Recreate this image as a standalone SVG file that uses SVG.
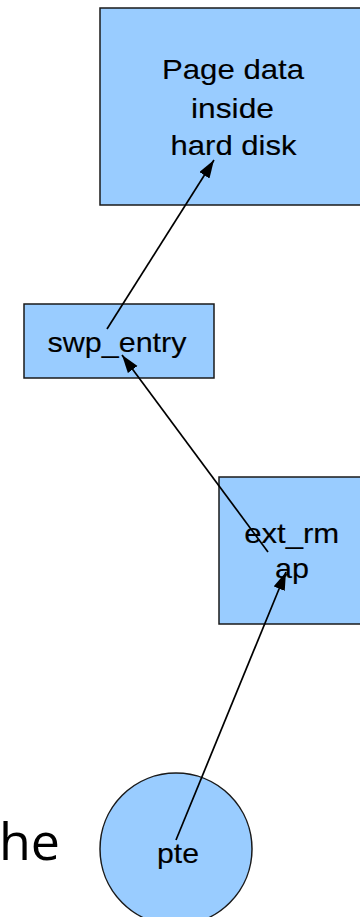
<svg xmlns="http://www.w3.org/2000/svg" width="360" height="917" viewBox="0 0 360 917">
  <style>
    .node { fill: #99ccff; stroke: #1a1a1a; stroke-width: 1.5; }
    .label { font-family: "Liberation Sans", Arial, sans-serif; font-size: 28px; fill: #000; stroke: #000; stroke-width: 0.12; text-anchor: middle; }
    .edge { stroke: #000; stroke-width: 1.7; fill: none; marker-end: url(#arrow); }
    .side { font-family: "Open Sans", "Noto Sans", sans-serif; font-size: 52px; fill: #000; text-anchor: end; }
  </style>
  <defs>
    <marker id="arrow" markerUnits="userSpaceOnUse" markerWidth="20" markerHeight="14" refX="18" refY="6" orient="auto">
      <path d="M0,0 L18,6 L0,12 z" fill="#000"/>
    </marker>
  </defs>

  <rect width="360" height="917" fill="#fff"/>

  <text class="side" x="60" y="860">he</text>

  <g id="disk">
    <rect class="node" x="100" y="8" width="270" height="197"/>
    <text class="label" x="233" y="79" textLength="142" lengthAdjust="spacingAndGlyphs">Page data</text>
    <text class="label" x="232.5" y="118" textLength="83" lengthAdjust="spacingAndGlyphs">inside</text>
    <text class="label" x="233.5" y="155" textLength="126" lengthAdjust="spacingAndGlyphs">hard disk</text>
  </g>

  <g id="swp_entry">
    <rect class="node" x="24" y="304" width="190" height="74"/>
    <text class="label" x="117" y="352" textLength="139" lengthAdjust="spacingAndGlyphs">swp_entry</text>
  </g>

  <g id="ext_rmap">
    <rect class="node" x="219" y="477" width="151" height="147"/>
    <text class="label" x="291.7" y="543" textLength="95" lengthAdjust="spacingAndGlyphs">ext_rm</text>
    <text class="label" x="292" y="578" textLength="34" lengthAdjust="spacingAndGlyphs">ap</text>
  </g>

  <g id="pte">
    <circle class="node" cx="176" cy="849" r="76"/>
    <text class="label" x="178" y="863" textLength="42" lengthAdjust="spacingAndGlyphs">pte</text>
  </g>

  <g id="connectors">
    <line class="edge" x1="107" y1="329" x2="214" y2="160"/>
    <line class="edge" x1="268" y1="552" x2="122" y2="355"/>
    <line class="edge" x1="176" y1="840" x2="286" y2="572"/>
  </g>
</svg>
